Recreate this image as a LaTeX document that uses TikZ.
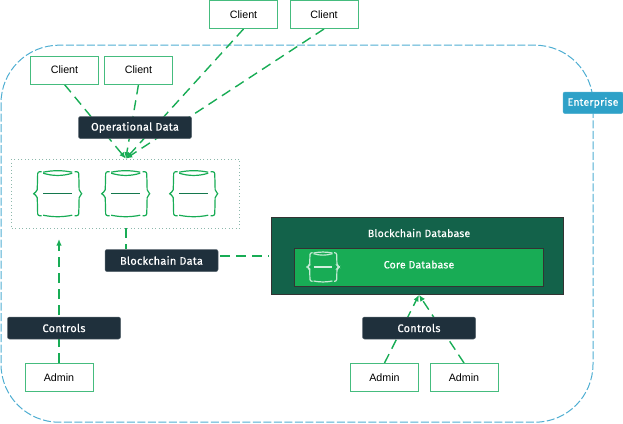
\documentclass[tikz,border=0pt]{standalone}
\usepackage{fontspec}
\setmainfont{Liberation Sans}
\newfontfamily\labelfont[FakeBold=0.5,LetterSpace=2]{Fira Sans}
\usetikzlibrary{arrows.meta,backgrounds}

\definecolor{linegreen}{HTML}{18AC55}
\definecolor{boxgreen}{HTML}{45BC7E}
\definecolor{darkslate}{HTML}{1F303C}
\definecolor{deepgreen}{HTML}{13624A}
\definecolor{dashblue}{HTML}{4FAED2}
\definecolor{tagblue}{HTML}{2EA1C8}
\definecolor{dotgray}{HTML}{8DB8AC}

\tikzset{
	clientbox/.style={draw=boxgreen, line width=1pt, fill=white, minimum width=68pt, minimum height=28pt, font=\fontsize{10.7}{12}\selectfont, text=black},
	darkbox/.style={draw=darkslate!75, line width=0.5pt, fill=darkslate, rounded corners=2pt, minimum width=113pt, minimum height=22pt, text=white, font=\labelfont\fontsize{11}{12}\selectfont},
	flow/.style={linegreen, line width=1.4pt, dash pattern=on 10pt off 6pt},
	flowtip/.style={flow, -{Latex[length=6.5pt,width=5.5pt]}},
	midline/.style={deepgreen!70!linegreen},
	dbicon/.pic={
		\draw[#1, line width=1.2pt, rounded corners=2pt] (-16,-22) -- (-20,-22) -- (-20.5,-2) -- (-25,0) -- (-20.5,2) -- (-20,22) -- (-16,22);
		\draw[#1, line width=1.2pt, rounded corners=2pt] (17,-22) -- (21,-22) -- (21.5,-2) -- (25,0) -- (21.5,2) -- (21,22) -- (17,22);
		\draw[#1, line width=1.2pt] (-14.5,-21.5) .. controls (-5,-23.5) and (5,-23.5) .. (14.5,-21.5);
		\draw[#1, line width=1.2pt] (-14.5,-20.5) .. controls (-5,-17.5) and (5,-17.5) .. (14.5,-20.5);
		\draw[midline, line width=1.4pt] (-14.5,0) -- (14.5,0);
		\draw[#1, line width=1.2pt] (-14.5,21.5) .. controls (-5,23.5) and (5,23.5) .. (14.5,21.5);
	}
}

\begin{document}
\begin{tikzpicture}[x=1pt,y=-1pt]
\useasboundingbox (0,0) rectangle (623,423);

% clients
\node[clientbox] (clienta) at (243.5,14.5) {Client};
\node[clientbox] (clientb) at (324,14.5) {Client};
\node[clientbox] (clientc) at (64.5,70) {Client};
\node[clientbox] (clientd) at (138.5,70) {Client};

% dark labels
\node[darkbox] (opdata) at (135,127.5) {Operational Data};
\node[darkbox] (bcdata) at (161.5,260.5) {Blockchain Data};
\node[darkbox] (ctrla) at (64,328) {Controls};
\node[darkbox] (ctrlb) at (419,328) {Controls};

% block store
\node[draw=dotgray, dash pattern=on 1pt off 2.5pt, line width=0.7pt, minimum width=228pt, minimum height=69pt] (store) at (125.8,193.5) {};
\pic at (57.7,193.7) {dbicon=linegreen};
\pic at (125.7,193.7) {dbicon=linegreen};
\pic at (193.7,193.7) {dbicon=linegreen};

% database
\node[draw=black!80, line width=0.7pt, fill=deepgreen, minimum width=291.5pt, minimum height=77pt] (bcdb) at (417.25,256) {};
\node[text=white, font=\labelfont\fontsize{10.5}{12}\selectfont] (bcdbname) at (419,233) {Blockchain Database};
\node[draw=black!80, line width=0.7pt, fill=linegreen, minimum width=249.5pt, minimum height=37.5pt] (core) at (418.75,267.25) {};
\node[text=white, font=\labelfont\fontsize{10.5}{12}\selectfont] (corename) at (419,264.5) {Core Database};
\pic[scale=0.65, midline/.style={white!80!linegreen}] at (323,267) {dbicon=white!75!linegreen};

% admins
\node[clientbox] (admina) at (59,377.5) {Admin};
\node[clientbox] (adminb) at (384.5,377.5) {Admin};
\node[clientbox] (adminc) at (464,377.5) {Admin};

\node[draw=tagblue!85!white, line width=0.5pt, fill=tagblue, rounded corners=2pt, minimum width=60pt, minimum height=21.5pt, inner sep=0pt, text=white, font=\labelfont\fontsize{10.5}{12}\selectfont] (enterprise) at (593,102.75) {Enterprise};

\coordinate (ctrltip) at (59,239);

\begin{pgfonlayer}{background}
% enterprise outline
\draw[dashblue, line width=1pt, dash pattern=on 8pt off 2.5pt, rounded corners=58pt] (1,45.2) rectangle (593,422.2);

\draw[flowtip] (clientc.south) -- (store.north);
\draw[flowtip] (clientd.south) -- (store.north);
\draw[flowtip] (clienta.south) -- (store.north);
\draw[flowtip] (clientb.south) -- (store.north);

\draw[flow] (store.south) -- (store.south |- bcdata.north);
\draw[flow, shorten <=2pt, shorten >=2pt] (bcdata.east |- bcdb.west) -- (bcdb.west);

\draw[flowtip] (admina.north) -- (ctrltip);
\draw[flowtip] (adminb.north) -- (ctrlb.north |- bcdb.south);
\draw[flowtip] (adminc.north) -- (ctrlb.north |- bcdb.south);
\end{pgfonlayer}
\end{tikzpicture}
\end{document}
